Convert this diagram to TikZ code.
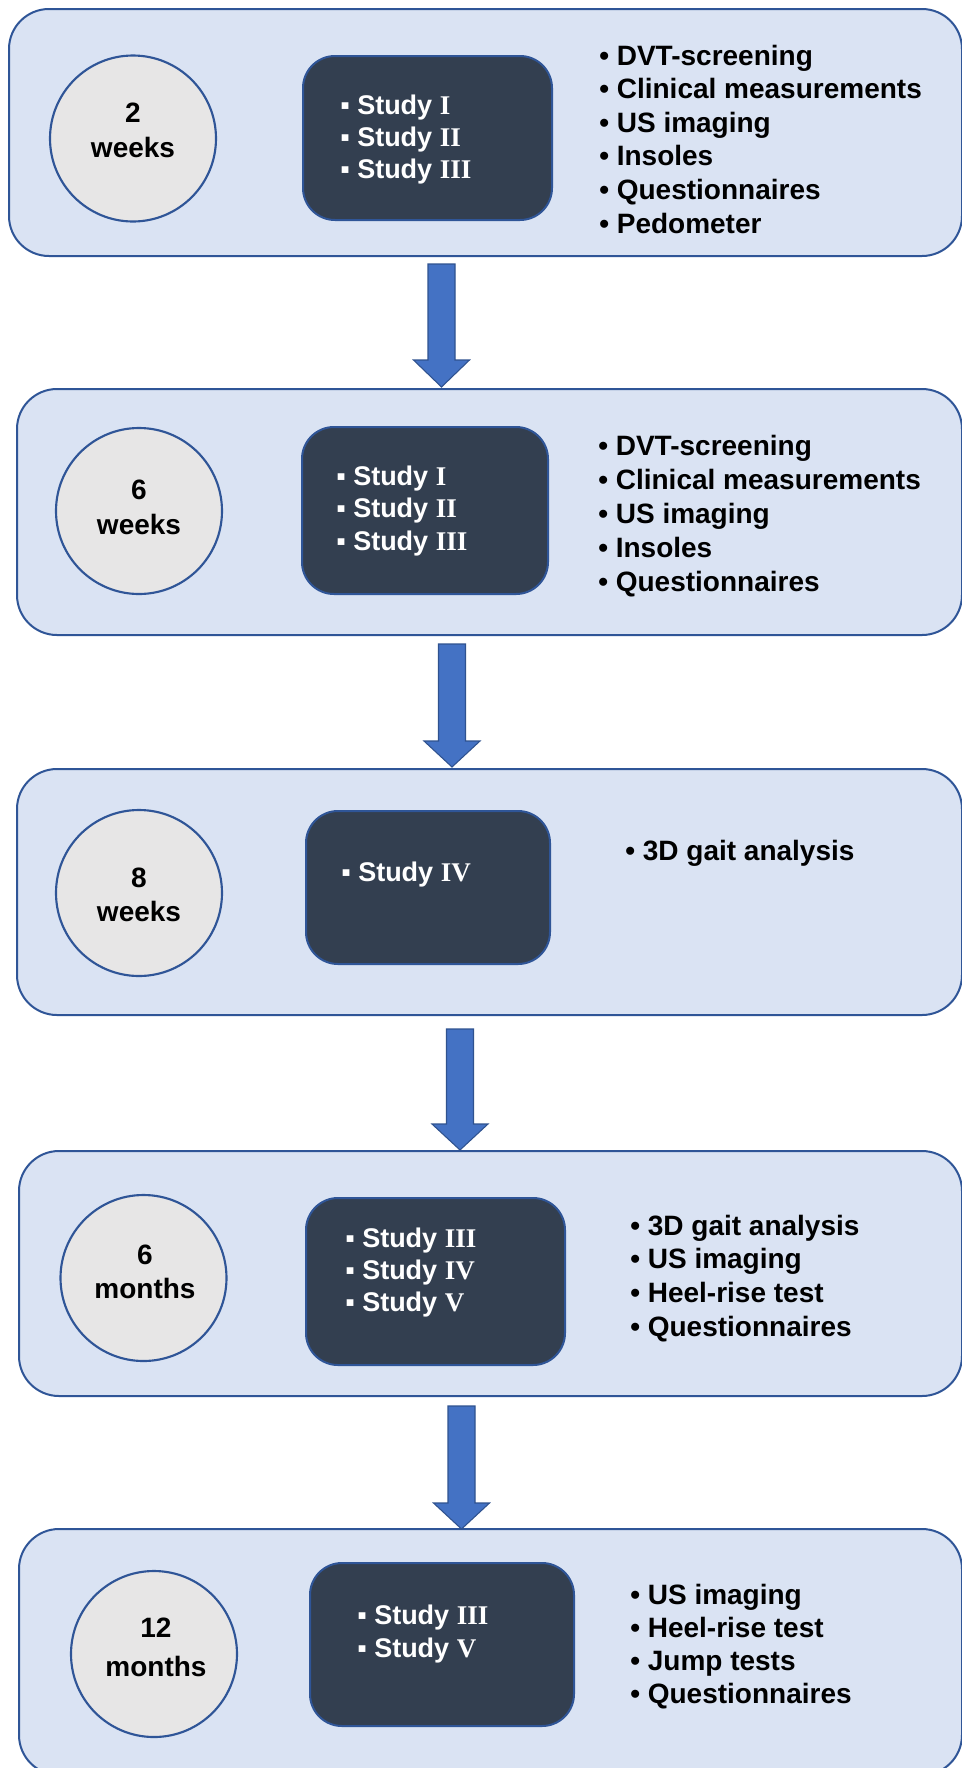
\documentclass[tikz,border=0pt]{standalone}
\usepackage{fontspec}
\setmainfont{Liberation Sans}
\newfontfamily\serifrn{Liberation Serif}
\definecolor{panelfill}{HTML}{DAE3F3}
\definecolor{edgeblue}{HTML}{2F5597}
\definecolor{circfill}{HTML}{E7E6E6}
\definecolor{boxfill}{HTML}{333F50}
\definecolor{arrowfill}{HTML}{4472C4}
\definecolor{arrowedge}{HTML}{2F528F}
\newcommand\rn[1]{{\serifrn\bfseries #1}}
\newcommand\sqb{\makebox[12.75pt][l]{▪}}
\newcommand\bul{•~}
\tikzset{
  panel/.style={draw=edgeblue, line width=1.5pt, fill=panelfill, rounded corners=30pt, inner sep=0pt},
  tcirc/.style={circle, draw=edgeblue, line width=1.6pt, fill=circfill, minimum size=124.5pt, inner sep=0pt},
  sbox/.style={draw=edgeblue, line width=1.5pt, fill=boxfill, rounded corners=24pt, inner sep=0pt},
  ctext/.style={font=\fontsize{21}{25}\selectfont\bfseries, inner sep=0pt, anchor=base, text=black},
  slist/.style={font=\fontsize{20.25}{24}\selectfont\bfseries, inner sep=0pt, anchor=base west, text=white},
  blist/.style={font=\fontsize{21}{25}\selectfont\bfseries, inner sep=0pt, anchor=base west, text=black},
  barrow/.style={fill=arrowfill, draw=arrowedge, line width=0.8pt, line join=miter}
}
\newcommand\blockarr[4]{%
  \draw[barrow] ({#1-13.5},#2) -- ({#1+13.5},#2) -- ({#1+13.5},#3) -- ({#1+28},#3)
    -- (#1,#4) -- ({#1-28},#3) -- ({#1-13.5},#3) -- cycle;}
\begin{document}
\begin{tikzpicture}[x=0.75pt,y=-0.75pt]
\clip (0,0) rectangle (962,1768);
\fill[white] (0,0) rectangle (962,1768);

% panels
\node[panel, minimum width=714.75pt, minimum height=185.25pt] (P1) at (485.5,132.5) {};
\node[panel, minimum width=708.75pt, minimum height=184.5pt] (P2) at (489.5,512) {};
\node[panel, minimum width=708.75pt, minimum height=184.5pt] (P3) at (489.5,892) {};
\node[panel, minimum width=707.25pt, minimum height=183.75pt] (P4) at (490.5,1273.5) {};
\node[panel, minimum width=707.25pt, minimum height=184.5pt] (P5) at (490.5,1652) {};

% arrows
\blockarr{441.5}{264}{360}{387}
\blockarr{452}{644}{741}{767}
\blockarr{460}{1029}{1124}{1150}
\blockarr{461.5}{1406}{1503}{1529}

% circles
\node[tcirc] (C1) at (133,138.5) {};
\node[tcirc] (C2) at (139,511) {};
\node[tcirc] (C3) at (139,893) {};
\node[tcirc] (C4) at (143.5,1278) {};
\node[tcirc] (C5) at (154,1654) {};
\node[ctext] (C1a) at (133,122) {2};
\node[ctext] (C1b) at (133,157) {weeks};
\node[ctext] (C2a) at (139,499) {6};
\node[ctext] (C2b) at (139,534) {weeks};
\node[ctext] (C3a) at (139,887) {8};
\node[ctext] (C3b) at (139,921) {weeks};
\node[ctext] (C4a) at (145,1264) {6};
\node[ctext] (C4b) at (145,1298) {months};
\node[ctext] (C5a) at (156,1637) {12};
\node[ctext] (C5b) at (156,1676) {months};

% study boxes
\node[sbox, minimum width=186.75pt, minimum height=123pt] (B1) at (427.5,138) {};
\node[sbox, minimum width=184.5pt, minimum height=125.25pt] (B2) at (425,510.5) {};
\node[sbox, minimum width=183pt, minimum height=114.75pt] (B3) at (428,887.5) {};
\node[sbox, minimum width=194.25pt, minimum height=125.25pt] (B4) at (435.5,1281.5) {};
\node[sbox, minimum width=198pt, minimum height=122.25pt] (B5) at (442,1644.5) {};

\foreach \t [count=\i] in {I,II,III}
  \node[slist] (S1-\i) at (340,{114+(\i-1)*32}) {\sqb Study \rn{\t}};
\foreach \t [count=\i] in {I,II,III}
  \node[slist] (S2-\i) at (336,{485+(\i-1)*32.5}) {\sqb Study \rn{\t}};
\node[slist] (S3-1) at (341,881) {\sqb Study \rn{IV}};
\foreach \t [count=\i] in {III,IV,V}
  \node[slist] (S4-\i) at (345,{1247+(\i-1)*32}) {\sqb Study \rn{\t}};
\foreach \t [count=\i] in {III,V}
  \node[slist] (S5-\i) at (357,{1624+(\i-1)*33}) {\sqb Study \rn{\t}};

% measurement lists
\foreach \t [count=\i] in {DVT-screening,Clinical measurements,US imaging,Insoles,Questionnaires,Pedometer}
  \node[blist] (M1-\i) at (599,{65+(\i-1)*33.6}) {\bul\t};
\foreach \t [count=\i] in {DVT-screening,Clinical measurements,US imaging,Insoles,Questionnaires}
  \node[blist] (M2-\i) at (598,{455+(\i-1)*34.2}) {\bul\t};
\node[blist] (M3-1) at (625,860) {\bul 3D gait analysis};
\foreach \t [count=\i] in {3D gait analysis,US imaging,Heel-rise test,Questionnaires}
  \node[blist] (M4-\i) at (630,{1235+(\i-1)*33.7}) {\bul\t};
\foreach \t [count=\i] in {US imaging,Heel-rise test,Jump tests,Questionnaires}
  \node[blist] (M5-\i) at (630,{1604+(\i-1)*33.3}) {\bul\t};
\end{tikzpicture}
\end{document}
